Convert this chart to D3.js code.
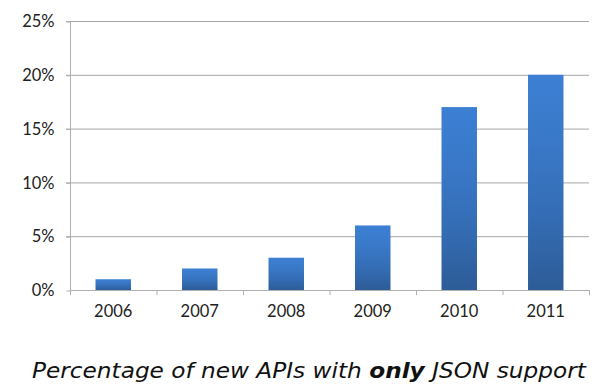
<!DOCTYPE html>
<html><head><meta charset="utf-8">
<script src="https://cdn.jsdelivr.net/npm/d3@7"></script>
<style>body{margin:0;background:#fff}svg{display:block}</style>
</head><body>
<svg id="chart" width="600" height="390"></svg>
<script>
const years = ["2006","2007","2008","2009","2010","2011"];
const percents = [1, 2, 3, 6, 17, 20];
const yTicks = [0, 5, 10, 15, 20, 25];
const title = ["Percentage of new APIs with ", "only", " JSON support"];

const svg = d3.select("#chart");
const mLeft = 70, mRight = 589, mTop = 21, mBottom = 290;

const x = d3.scaleBand().domain(years).range([mLeft, mRight]).paddingInner(0.59).paddingOuter(0.295);
const xTickScale = d3.scaleBand().domain(years).range([mLeft, mRight]);
const y = d3.scaleLinear().domain([0, 25]).range([mBottom, mTop]);

const defs = svg.append("defs");
const grad = defs.append("linearGradient").attr("id","barGrad")
  .attr("x1",0).attr("y1",0).attr("x2",0).attr("y2",1);
grad.append("stop").attr("offset","0%").attr("stop-color","#3c7fd3");
grad.append("stop").attr("offset","30%").attr("stop-color","#3a79c9");
grad.append("stop").attr("offset","65%").attr("stop-color","#346db5");
grad.append("stop").attr("offset","100%").attr("stop-color","#2d5c97");

// gridlines
svg.append("g").selectAll("line").data(yTicks.filter(d => d > 0)).join("line")
  .attr("x1", mLeft - 4).attr("x2", mRight).attr("y1", d => y(d) + 0.5).attr("y2", d => y(d) + 0.5)
  .attr("stroke", "#a6a6a6").attr("stroke-width", 1);

// y axis
const yAxis = d3.axisLeft(y).tickValues(yTicks).tickFormat(d => d + "%").tickSize(4).tickPadding(12);
const gy = svg.append("g").attr("transform", `translate(${mLeft + 0.5},0.5)`).call(yAxis);
gy.select(".domain").attr("stroke", "#b0b0b0").attr("d", `M-4,${mTop}H0V${mBottom}`);
gy.selectAll(".tick line").attr("stroke", "#b0b0b0");
gy.selectAll(".tick text").attr("font-family", "Lato, 'Open Sans', sans-serif").attr("font-size", 16.5).attr("fill", "#222");

// bars
svg.append("g").selectAll("rect").data(percents).join("rect")
  .attr("x", (d, i) => x(years[i]))
  .attr("width", x.bandwidth())
  .attr("y", d => y(d))
  .attr("height", d => y(0) - y(d))
  .attr("fill", "url(#barGrad)");

// x axis
const xAxis = d3.axisBottom(x).tickSize(0).tickPadding(15);
const gx = svg.append("g").attr("transform", `translate(0,${mBottom + 0.5})`).call(xAxis);
gx.select(".domain").attr("stroke", "#b0b0b0").attr("d", `M${mLeft},0H${mRight}`);
gx.selectAll(".tick text").attr("font-family", "Lato, 'Open Sans', sans-serif").attr("font-size", 16.5).attr("fill", "#222");
// category separator ticks
svg.append("g").selectAll("line").data(years.concat(["end"])).join("line")
  .attr("x1", (d, i) => i < years.length ? xTickScale(d) + 0.5 : mRight + 0.5)
  .attr("x2", (d, i) => i < years.length ? xTickScale(d) + 0.5 : mRight + 0.5)
  .attr("y1", mBottom).attr("y2", mBottom + 5)
  .attr("stroke", "#b0b0b0");

// title
const t = svg.append("text").attr("transform", "translate(32,378) scale(1.106,1)")
  .attr("font-family", "'DejaVu Sans', sans-serif").attr("font-size", 21).attr("font-style", "italic").attr("fill", "#111");
t.append("tspan").text(title[0]);
t.append("tspan").attr("font-weight", "bold").text(title[1]);
t.append("tspan").text(title[2]);
</script>
</body></html>
